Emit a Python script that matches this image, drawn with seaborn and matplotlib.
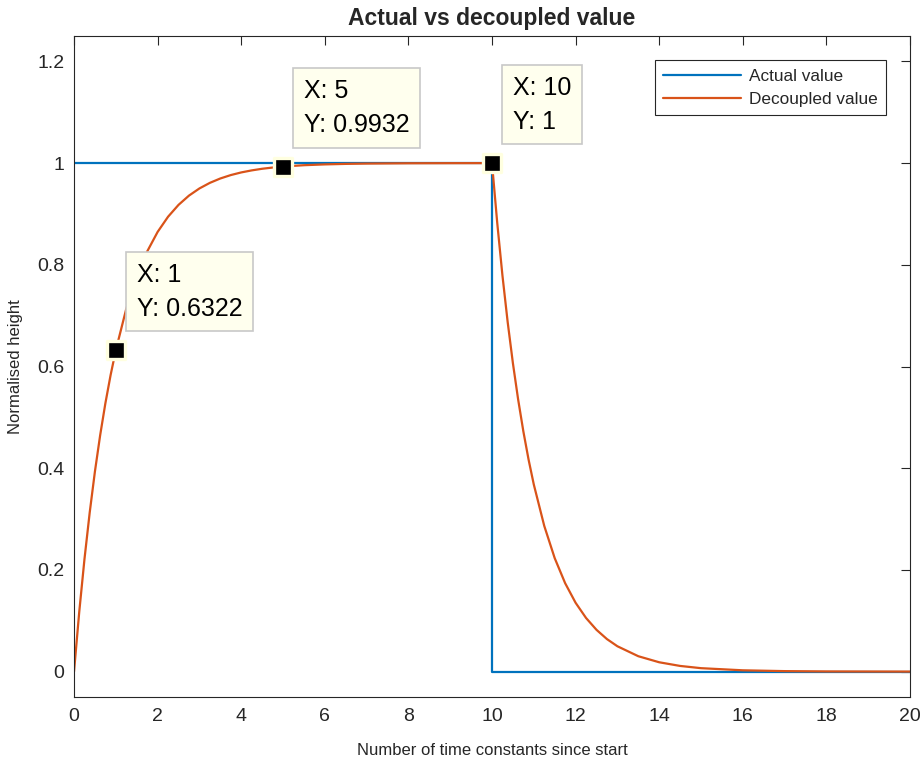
import matplotlib
matplotlib.use("Agg")
import matplotlib.pyplot as plt
import seaborn as sns
import pandas as pd

# step input (actual value)
actual_t = [0, 10, 10, 20]
actual_h = [1, 1, 0, 0]

# decoupled value
decoupled_t = [0, 0.125, 0.25, 0.375, 0.5, 0.625, 0.75, 0.875, 1, 1.25, 1.5, 1.75, 2,
               2.25, 2.5, 2.75, 3, 3.25, 3.5, 3.75, 4, 4.25, 4.5, 4.75, 5, 5.5, 6,
               6.5, 7, 7.5, 8, 9, 10,
               10.125, 10.25, 10.375, 10.5, 10.625, 10.75, 10.875, 11, 11.25, 11.5,
               11.75, 12, 12.25, 12.5, 12.75, 13, 13.5, 14, 14.5, 15, 16, 17, 18, 20]
decoupled_h = [0, 0.1175, 0.2212, 0.3127, 0.3935, 0.4647, 0.5276, 0.5831, 0.6321,
               0.7135, 0.7769, 0.8262, 0.8647, 0.8946, 0.9179, 0.9361, 0.9502, 0.9612,
               0.9698, 0.9765, 0.9817, 0.9857, 0.9889, 0.9913, 0.9933, 0.9959, 0.9975,
               0.9985, 0.9991, 0.9994, 0.9997, 0.9999, 1.0,
               0.8825, 0.7788, 0.6873, 0.6065, 0.5353, 0.4724, 0.4169, 0.3679, 0.2865,
               0.2231, 0.1738, 0.1353, 0.1054, 0.0821, 0.0639, 0.0498, 0.0302, 0.0183,
               0.0111, 0.0067, 0.0025, 0.0009, 0.0003, 0.0]

# data tips
tip_x = [1, 5, 10]
tip_y = [0.6322, 0.9932, 1]
tip_text = ["X: 1\nY: 0.6322", "X: 5\nY: 0.9932", "X: 10\nY: 1"]

xticks = [0, 2, 4, 6, 8, 10, 12, 14, 16, 18, 20]
yticks = [0, 0.2, 0.4, 0.6, 0.8, 1, 1.2]
ytick_labels = ["0", "0.2", "0.4", "0.6", "0.8", "1", "1.2"]

sns.set_style("white")
plt.rcParams['font.family'] = ['Liberation Sans', 'DejaVu Sans']

blue = '#0072BD'
orange = '#D95319'
dark = '#262626'

fig = plt.figure(figsize=(9.23, 7.63), dpi=100)
ax = fig.add_axes([0.0802, 0.0865, 0.9057, 0.8663])

df_a = pd.DataFrame({'t': actual_t, 'h': actual_h})
df_d = pd.DataFrame({'t': decoupled_t, 'h': decoupled_h})

sns.lineplot(data=df_a, x='t', y='h', ax=ax, color=blue, linewidth=1.6,
             estimator=None, sort=False, label='Actual value')
sns.lineplot(data=df_d, x='t', y='h', ax=ax, color=orange, linewidth=1.6,
             estimator=None, sort=False, label='Decoupled value')

sns.scatterplot(x=tip_x, y=tip_y, ax=ax, marker='s', s=170, color='black',
                edgecolor='#FFFFE0', linewidth=2.4, zorder=5)

for x, y, txt in zip(tip_x, tip_y, tip_text):
    ax.annotate(txt, xy=(x, y), xytext=(15, 21), textcoords='offset points',
                ha='left', va='bottom', fontsize=18, linespacing=1.55, color='black',
                bbox=dict(boxstyle='square,pad=0.42', fc='#FFFFEE', ec='#C8C8C8', lw=1.2),
                zorder=6)

ax.set_xlim(0, 20)
ax.set_ylim(-0.05, 1.25)
ax.set_xticks(xticks)
ax.set_yticks(yticks)
ax.set_yticklabels(ytick_labels)
ax.tick_params(direction='in', length=6.5, width=0.8, colors=dark, labelsize=14,
               top=True, right=True, labelcolor=dark)
ax.tick_params(axis='x', pad=8)
ax.tick_params(axis='y', pad=7)
for s in ax.spines.values():
    s.set_color(dark)
    s.set_linewidth(0.8)

ax.set_title('Actual vs decoupled value', fontsize=16.5, fontweight='bold', pad=8)
ax.set_xlabel('Number of time constants since start', fontsize=12, color=dark, labelpad=13)
ax.set_ylabel('Normalised height', fontsize=12, color=dark, labelpad=10)

leg = ax.legend(loc='upper right', fontsize=12.4, frameon=True, fancybox=False,
                framealpha=1, edgecolor=dark, borderaxespad=1.4, handlelength=4.5,
                handletextpad=0.45, labelspacing=0.45, borderpad=0.5)
leg.get_frame().set_linewidth(0.8)

fig.savefig('out.png', dpi=100)
